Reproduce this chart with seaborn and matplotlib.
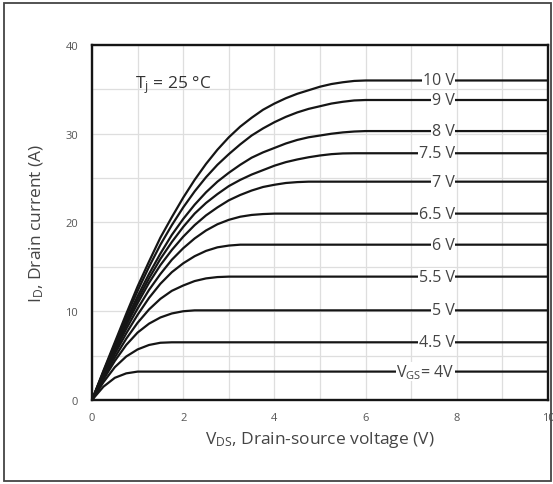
import numpy as np
import pandas as pd
import matplotlib
matplotlib.use("Agg")
import matplotlib.pyplot as plt
import seaborn as sns
from matplotlib.patches import Rectangle

# ---- data ----
vds = [0, 0.25, 0.5, 0.75, 1, 1.25, 1.5, 1.75, 2, 2.25, 2.5, 2.75, 3,
       3.25, 3.5, 3.75, 4, 4.25, 4.5, 4.75, 5, 5.25, 5.5, 5.75, 6, 10]
i_4v   = [0, 1.5, 2.5, 3.0, 3.2, 3.2, 3.2, 3.2, 3.2, 3.2, 3.2, 3.2, 3.2,
          3.2, 3.2, 3.2, 3.2, 3.2, 3.2, 3.2, 3.2, 3.2, 3.2, 3.2, 3.2, 3.2]
i_4_5v = [0, 2.0, 3.7, 4.9, 5.7, 6.2, 6.45, 6.5, 6.5, 6.5, 6.5, 6.5, 6.5,
          6.5, 6.5, 6.5, 6.5, 6.5, 6.5, 6.5, 6.5, 6.5, 6.5, 6.5, 6.5, 6.5]
i_5v   = [0, 2.3, 4.4, 6.2, 7.6, 8.6, 9.3, 9.75, 10.0, 10.1, 10.1, 10.1, 10.1,
          10.1, 10.1, 10.1, 10.1, 10.1, 10.1, 10.1, 10.1, 10.1, 10.1, 10.1, 10.1, 10.1]
i_5_5v = [0, 2.5, 4.8, 6.9, 8.7, 10.2, 11.4, 12.3, 12.9, 13.4, 13.7, 13.85, 13.9,
          13.9, 13.9, 13.9, 13.9, 13.9, 13.9, 13.9, 13.9, 13.9, 13.9, 13.9, 13.9, 13.9]
i_6v   = [0, 2.7, 5.2, 7.5, 9.6, 11.5, 13.1, 14.4, 15.4, 16.2, 16.8, 17.2, 17.4,
          17.5, 17.5, 17.5, 17.5, 17.5, 17.5, 17.5, 17.5, 17.5, 17.5, 17.5, 17.5, 17.5]
i_6_5v = [0, 2.8, 5.5, 8.0, 10.3, 12.4, 14.2, 15.8, 17.1, 18.2, 19.1, 19.8, 20.3,
          20.65, 20.85, 20.95, 21.0, 21.0, 21.0, 21.0, 21.0, 21.0, 21.0, 21.0, 21.0, 21.0]
i_7v   = [0, 2.9, 5.7, 8.4, 10.9, 13.2, 15.2, 16.9, 18.4, 19.7, 20.8, 21.7, 22.5,
          23.1, 23.6, 24.0, 24.25, 24.45, 24.55, 24.6, 24.6, 24.6, 24.6, 24.6, 24.6, 24.6]
i_7_5v = [0, 3.0, 5.9, 8.7, 11.3, 13.7, 15.9, 17.8, 19.5, 21.0, 22.2, 23.2, 24.1,
          24.8, 25.4, 25.9, 26.4, 26.8, 27.1, 27.35, 27.55, 27.7, 27.78, 27.8, 27.8, 27.8]
i_8v   = [0, 3.1, 6.1, 9.0, 11.7, 14.2, 16.5, 18.6, 20.4, 22.0, 23.4, 24.6, 25.6,
          26.5, 27.3, 27.9, 28.4, 28.9, 29.3, 29.6, 29.8, 30.0, 30.15, 30.25, 30.3, 30.3]
i_9v   = [0, 3.2, 6.3, 9.4, 12.3, 15.0, 17.5, 19.7, 21.7, 23.5, 25.1, 26.5, 27.7,
          28.8, 29.8, 30.6, 31.3, 31.9, 32.4, 32.8, 33.1, 33.4, 33.6, 33.75, 33.8, 33.8]
i_10v  = [0, 3.3, 6.5, 9.7, 12.8, 15.6, 18.3, 20.6, 22.8, 24.8, 26.6, 28.2, 29.6,
          30.8, 31.8, 32.7, 33.4, 34.0, 34.5, 34.9, 35.3, 35.6, 35.8, 35.95, 36.0, 36.0]

curves = [i_4v, i_4_5v, i_5v, i_5_5v, i_6v, i_6_5v, i_7v, i_7_5v, i_8v, i_9v, i_10v]
vgs_labels = [r"V$_{\mathrm{GS}}$= 4V", "4.5 V", "5 V", "5.5 V", "6 V", "6.5 V",
              "7 V", "7.5 V", "8 V", "9 V", "10 V"]
x_ticks = [0, 2, 4, 6, 8, 10]
y_ticks = [0, 10, 20, 30, 40]

rows = []
for lab, cur in zip(vgs_labels, curves):
    for x, y in zip(vds, cur):
        rows.append({"vds": x, "id": y, "vgs": lab})
df = pd.DataFrame(rows)

# ---- style ----
sns.set_theme(style="white")
plt.rcParams["font.family"] = ["Open Sans", "DejaVu Sans"]
plt.rcParams["mathtext.fontset"] = "custom"
plt.rcParams["mathtext.rm"] = "Open Sans"
plt.rcParams["mathtext.it"] = "Open Sans"
plt.rcParams["mathtext.bf"] = "Open Sans"

fig = plt.figure(figsize=(5.53, 4.85), dpi=100)
ax = fig.add_axes([0.1664, 0.1732, 0.8246, 0.732])

sns.lineplot(data=df, x="vds", y="id", hue="vgs", hue_order=vgs_labels,
             palette=["#151515"] * len(vgs_labels), linewidth=1.6,
             legend=False, ax=ax, sort=False, estimator=None)

ax.set_xlim(0, 10)
ax.set_ylim(0, 40)
ax.set_xticks(x_ticks)
ax.set_yticks(y_ticks)
ax.set_xticks(np.arange(1, 10, 2), minor=True)
ax.set_yticks([5, 15, 25, 35], minor=True)
ax.grid(True, which="both", color="#dedede", linewidth=0.9)
ax.set_axisbelow(True)
for s in ax.spines.values():
    s.set_color("#151515")
    s.set_linewidth(1.7)
ax.tick_params(which="major", direction="out", length=4, width=1.2,
               color="#151515", labelsize=8, labelcolor="#555555")
ax.tick_params(axis="x", which="major", pad=5)
ax.tick_params(axis="y", which="major", pad=6)
ax.tick_params(which="minor", direction="inout", length=3, width=1.0,
               color="#151515")

ax.set_xlabel(r"V$_{\mathrm{DS}}$, Drain-source voltage (V)", fontsize=12.5,
              color="#444444", labelpad=4)
ax.set_ylabel(r"I$_{\mathrm{D}}$, Drain current (A)", fontsize=12.5,
              color="#444444", labelpad=14)

for lab, cur in zip(vgs_labels, curves):
    ax.text(7.95, cur[-1], lab, ha="right", va="center", fontsize=11.5,
            color="#444444",
            bbox=dict(boxstyle="square,pad=0.03", fc="white", ec="none"))

ax.text(0.94, 35.6, r"T$_{\mathrm{j}}$ = 25 °C", ha="left", va="center",
        fontsize=12.5, color="#333333")

fig.patches.append(Rectangle((4 / 553, 3 / 485), 547 / 553, 478 / 485,
                             transform=fig.transFigure, fill=False,
                             edgecolor="#444444", linewidth=1.3))

fig.savefig("out.png", dpi=100)
